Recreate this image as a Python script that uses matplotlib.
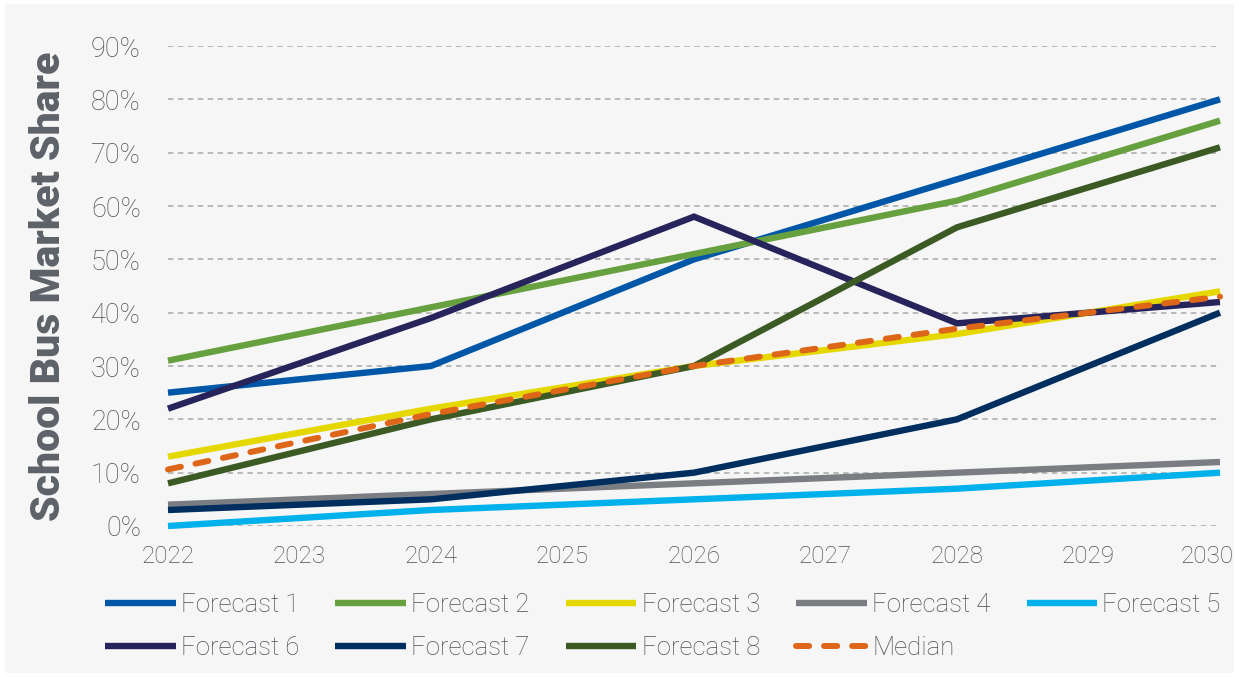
import numpy as np
import matplotlib
matplotlib.use("Agg")
import matplotlib.pyplot as plt
import matplotlib.transforms as mtransforms
from matplotlib.patches import Rectangle
from matplotlib.ticker import FuncFormatter

# --- Data ---
years = [2022, 2024, 2026, 2028, 2030]
forecast_1 = [25, 30, 50, 65, 80]
forecast_2 = [31, 41, 51, 61, 76]
forecast_3 = [13, 22, 30, 36, 44]
forecast_4 = [4, 6, 8, 10, 12]
forecast_5 = [0, 3, 5, 7, 10]
forecast_6 = [22, 39, 58, 38, 42]
forecast_7 = [3, 5, 10, 20, 40]
forecast_8 = [8, 20, 30, 56, 71]
median = [10.6, 21, 30, 37, 43]

x_ticks = list(range(2022, 2031))
y_ticks = list(range(0, 91, 10))

series = [
    ("Forecast 1", forecast_1, "#0057a8"),
    ("Forecast 2", forecast_2, "#67a03e"),
    ("Forecast 3", forecast_3, "#e5d800"),
    ("Forecast 4", forecast_4, "#7a7e82"),
    ("Forecast 5", forecast_5, "#00b1eb"),
    ("Forecast 6", forecast_6, "#27245c"),
    ("Forecast 7", forecast_7, "#002e5e"),
    ("Forecast 8", forecast_8, "#3b5a24"),
]

txt = "#4c5157"
plt.rcParams["font.family"] = ["Roboto", "DejaVu Sans"]

fig = plt.figure(figsize=(12.39, 6.77), dpi=100, facecolor="white")
fig.patches.append(Rectangle((5 / 1239, 4 / 677), 1229 / 1239, 669 / 677,
                             transform=fig.transFigure, facecolor="#f6f6f6",
                             edgecolor="none", zorder=-10))
ax = fig.add_axes([168 / 1239, 1 - 526 / 677, (1220 - 168) / 1239, 480 / 677])
ax.set_facecolor("none")

handles = {}
for name, vals, col in series:
    h, = ax.plot(years, vals, color=col, lw=4.6, solid_capstyle="butt",
                 solid_joinstyle="miter", clip_on=False, label=name)
    handles[name] = h
h, = ax.plot(years, median, color="#dd6619", lw=4.3, ls=(0, (2.2, 2.5)),
             dash_capstyle="round", clip_on=False, label="Median")
handles["Median"] = h

ax.set_xlim(2022, 2030)
ax.set_ylim(0, 90)
ax.set_xticks(x_ticks)
ax.set_yticks(y_ticks)
ax.yaxis.set_major_formatter(FuncFormatter(lambda v, p: f"{v:.0f}%"))
ax.grid(axis="y", color="#b4b4b4", lw=1.3, ls=(0, (3, 2.5)))
ax.set_axisbelow(True)
for s in ax.spines.values():
    s.set_visible(False)
ax.tick_params(axis="both", length=0, colors=txt)
ax.tick_params(axis="y", pad=19.5, labelsize=19.5)
ax.tick_params(axis="x", pad=14, labelsize=17.5)
for lab in ax.get_xticklabels() + ax.get_yticklabels():
    lab.set_fontweight("light")
# last year label sits a bit inside the right edge
last = ax.get_xticklabels()[-1]
last.set_transform(last.get_transform() +
                   mtransforms.ScaledTranslation(-13 / 100, 0, fig.dpi_scale_trans))

ax.set_ylabel("School Bus Market Share", fontsize=29.5, fontweight="heavy",
              color="#5d6168")
ax.yaxis.set_label_coords(-0.095, 0.5)

order = ["Forecast 1", "Forecast 6", "Forecast 2", "Forecast 7", "Forecast 3",
         "Forecast 8", "Forecast 4", "Median", "Forecast 5"]
leg = ax.legend([handles[k] for k in order], order, ncol=5, loc="upper left",
                bbox_to_anchor=(-0.06, -0.14), frameon=False, fontsize=18.5,
                handlelength=2.75, handletextpad=0.2, columnspacing=1.41,
                labelspacing=0.72, borderaxespad=0, borderpad=0)
for t in leg.get_texts():
    t.set_color(txt)
    t.set_fontweight("light")

plt.savefig("out.png", dpi=100, facecolor=fig.get_facecolor())
